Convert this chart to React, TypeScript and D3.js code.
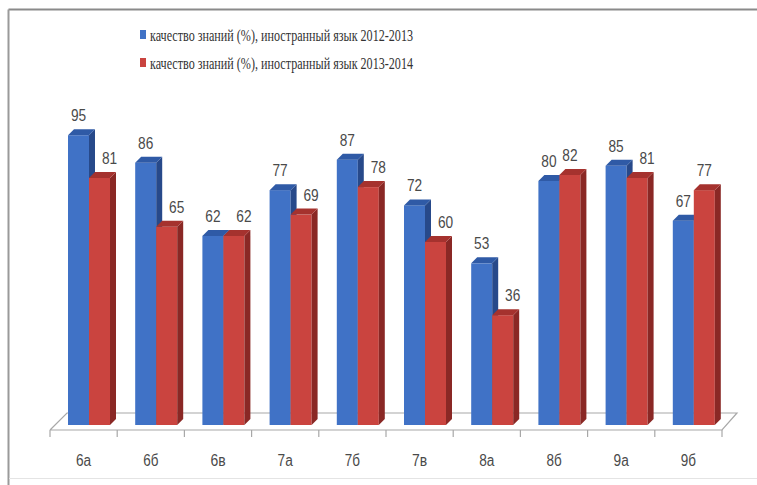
import React from 'react';
import * as d3 from 'd3';

const categories = ['6а', '6б', '6в', '7а', '7б', '7в', '8а', '8б', '9а', '9б'];
const values2012 = [95, 86, 62, 77, 87, 72, 53, 80, 85, 67];
const values2013 = [81, 65, 62, 69, 78, 60, 36, 82, 81, 77];
const seriesNames = [
  'качество знаний (%), иностранный язык 2012-2013',
  'качество знаний (%), иностранный язык 2013-2014',
];

const W = 757;
const H = 485;
const labelFont = "'Liberation Sans', Arial, sans-serif";

const palette = [
  { front: '#4072C6', side: '#27498A', top: '#2F5AA6' },
  { front: '#CA443F', side: '#8A2825', top: '#A5322E' },
];

// narrow label: squeeze glyphs like Arial Narrow
const NarrowText: React.FC<{ x: number; y: number; text: string; size?: number }> = ({ x, y, text, size = 16 }) => (
  <text
    x={x - (text.length * 7.6) / 2}
    y={y}
    fontFamily={labelFont}
    fontSize={size}
    fill="#4a4a4a"
    textLength={text.length * 7.6}
    lengthAdjust="spacingAndGlyphs"
  >
    {text}
  </text>
);

const App: React.FC = () => {
  const x = d3.scaleBand<string>().domain(categories).range([50, 722]).padding(0);
  const y = d3.scaleLinear().domain([0, 100]).range([425, 120]);

  const barW = 21;
  const depth = 6;
  const offset = 18; // from band start to the first bar
  const y0 = y(0);

  const floorFront = 430;
  const floorDepth = 17;
  const [fx0, fx1] = x.range();

  const bar3d = (bx: number, v: number, c: typeof palette[0], key: string) => {
    const top = y(v);
    return (
      <g key={key}>
        <rect x={bx} y={top} width={barW} height={y0 - top} fill={c.front} />
        <polygon
          points={`${bx + barW},${top} ${bx + barW + depth},${top - depth} ${bx + barW + depth},${y0 - depth} ${bx + barW},${y0}`}
          fill={c.side}
        />
        <polygon
          points={`${bx},${top} ${bx + depth},${top - depth} ${bx + barW + depth},${top - depth} ${bx + barW},${top}`}
          fill={c.top}
        />
      </g>
    );
  };

  return (
    <svg width={W} height={H} style={{ position: 'absolute', left: 0, top: 0, background: '#fff' }}>
      <rect x={0} y={0} width={W} height={H} fill="#fff" />
      {/* frame */}
      <line x1={8.5} y1={9.5} x2={W} y2={9.5} stroke="#8a8a8a" strokeWidth={2} />
      <line x1={8.5} y1={9.5} x2={8.5} y2={H} stroke="#9a9a9a" strokeWidth={2} />
      <line x1={9} y1={478.5} x2={W} y2={478.5} stroke="#e4e4e4" strokeWidth={1} />

      {/* legend */}
      {seriesNames.map((name, i) => (
        <g key={name} transform={`translate(140, ${35 + i * 28})`}>
          <rect x={0} y={-5} width={6} height={9} fill={palette[i].front} />
          <text
            x={10}
            y={5.5}
            fontFamily="Liberation Serif"
            fontSize={16}
            fill="#333"
            textLength={263}
            lengthAdjust="spacingAndGlyphs"
          >
            {name}
          </text>
        </g>
      ))}

      {/* floor */}
      <polyline
        points={`${fx0},${floorFront} ${fx0 + floorDepth},${floorFront - floorDepth} ${fx1 + floorDepth - 2},${floorFront - floorDepth} ${fx1},${floorFront} ${fx0},${floorFront}`}
        fill="none"
        stroke="#a8a8a8"
        strokeWidth={1.2}
      />
      {[...categories.map((c) => x(c)!), fx1].map((t, i) => (
        <line key={i} x1={t} y1={floorFront} x2={t} y2={floorFront + 7} stroke="#a8a8a8" strokeWidth={1.2} />
      ))}

      {/* bars */}
      {categories.map((c, i) => {
        const bx = x(c)! + offset;
        return (
          <g key={c}>
            {bar3d(bx, values2012[i], palette[0], 'b')}
            {bar3d(bx + barW, values2013[i], palette[1], 'r')}
          </g>
        );
      })}

      {/* data labels */}
      {categories.map((c, i) => {
        const bx = x(c)! + offset;
        const a = values2012[i];
        const b = values2013[i];
        const redShift = a >= b ? 10 : 0;
        return (
          <g key={c}>
            <NarrowText x={bx + barW / 2} y={y(a) - 14} text={String(a)} />
            <NarrowText x={bx + barW * 1.5 + redShift} y={y(b) - 14} text={String(b)} />
          </g>
        );
      })}

      {/* category labels */}
      {categories.map((c) => (
        <NarrowText key={c} x={x(c)! + x.bandwidth() / 2} y={466} text={c} />
      ))}
    </svg>
  );
};

export default App;
